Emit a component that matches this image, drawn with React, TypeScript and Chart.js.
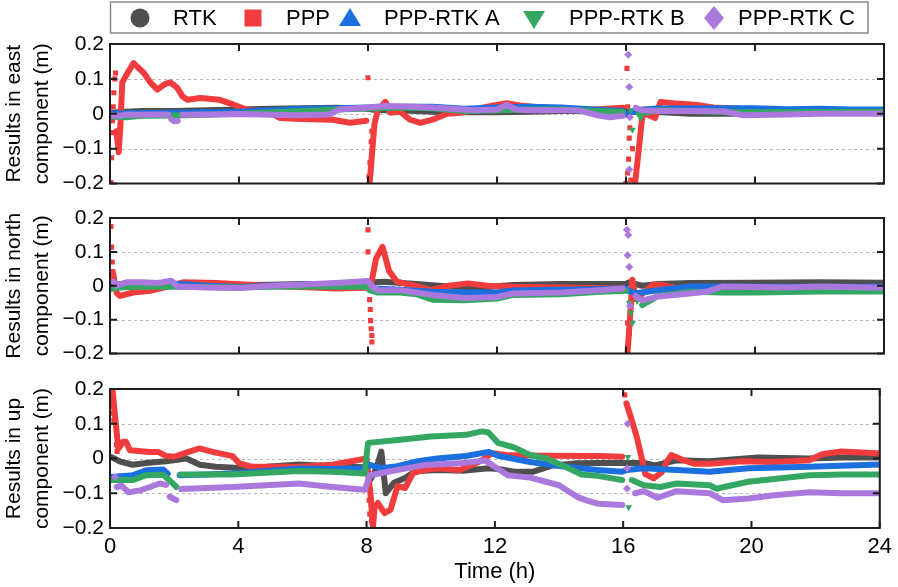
import React, { useEffect, useRef } from 'react';
import { Chart, registerables } from 'chart.js';

Chart.register(...registerables);

type Pt = [number, number | null];

// ---------- series meta ----------
const SERIES_NAMES = ['RTK', 'PPP', 'PPP-RTK A', 'PPP-RTK B', 'PPP-RTK C'];
const COLORS = ['#4f4f4f', '#f03c3c', '#1b6fdf', '#34a863', '#ab79dd'];
const POINT_STYLES = ['circle', 'rect', 'triangle', 'triangle', 'rectRot'];
const POINT_ROTATIONS = [0, 0, 0, 180, 0];

const X_TICKS = [0, 4, 8, 12, 16, 20, 24];
const Y_TICKS = [-0.2, -0.1, 0, 0.1, 0.2];
const Y_GRID = [-0.1, 0, 0.1];

// ---------- East component ----------
const EAST_RTK: Pt[] = [[0, 0.003], [0.5, 0.006], [1, 0.008], [2, 0.008], [3, 0.01], [4, 0.012], [5, 0.014], [6, 0.016], [7, 0.017], [7.9, 0.015], [8.3, 0.01], [9, 0.01], [10, 0.006], [11, 0.004], [12, 0.004], [13, 0.006], [14, 0.008], [15, 0.008], [16, 0.006], [17, 0.005], [18, 0.0], [19, 0.0], [20, 0.0], [21, 0.001], [22, 0.003], [24, 0.003]];
const EAST_PPP: Pt[] = [[0.2, -0.05], [0.27, -0.11], [0.33, -0.02], [0.38, 0.09], [0.5, 0.11], [0.73, 0.145], [0.9, 0.13], [1.05, 0.117], [1.25, 0.09], [1.47, 0.069], [1.7, 0.085], [1.87, 0.09], [2.08, 0.075], [2.25, 0.05], [2.4, 0.04], [2.8, 0.045], [3.4, 0.04], [3.84, 0.026], [4.25, 0.011], [4.87, 0.006], [5.28, -0.012], [5.9, -0.015], [6.9, -0.017], [7.45, -0.026], [7.95, -0.02], [8.0, null], [8.05, -0.2], [8.12, -0.12], [8.2, -0.03], [8.3, 0.01], [8.54, 0.034], [8.7, 0.003], [9.0, 0.006], [9.3, -0.017], [9.62, -0.026], [10.0, -0.017], [10.45, 0.0], [10.86, 0.003], [11.7, 0.02], [12.3, 0.03], [12.7, 0.024], [13.1, 0.02], [14, 0.012], [15, 0.012], [15.9, 0.017], [16.0, null], [16.28, -0.2], [16.4, -0.1], [16.5, -0.01], [16.6, 0.0], [16.9, -0.012], [17.07, 0.034], [17.47, 0.03], [18.2, 0.025], [18.7, 0.018], [19.55, 0.014], [20.8, 0.011], [21.8, 0.008], [24, 0.008]];
const EAST_PPP_OUT: Pt[] = [[0.03, -0.197], [0.05, -0.126], [0.07, -0.054], [0.08, -0.02], [0.1, 0.02], [0.12, 0.06], [0.15, 0.1], [0.17, 0.117], [8.0, 0.103], [8.03, -0.18], [8.06, -0.14], [8.1, -0.08], [8.12, -0.05], [16.03, 0.13], [16.05, 0.02], [16.0, -0.2], [16.05, -0.17], [16.08, -0.13], [16.1, -0.07], [16.12, -0.04], [16.15, -0.19], [16.2, -0.1]];
const EAST_A: Pt[] = [[0, 0.0], [1, 0.002], [2, 0.003], [3, 0.004], [4, 0.006], [5, 0.01], [6, 0.014], [7, 0.016], [8, 0.018], [9, 0.02], [10, 0.02], [11, 0.014], [12, 0.018], [13, 0.02], [14, 0.018], [15, 0.012], [15.9, 0.008], [16.0, -0.003], [16.2, 0.005], [16.5, 0.012], [17, 0.015], [18, 0.015], [19, 0.016], [20, 0.016], [21, 0.013], [22, 0.014], [23, 0.012], [24, 0.012]];
const EAST_B: Pt[] = [[0, -0.008], [0.5, -0.01], [1, -0.006], [2, -0.005], [3, -0.003], [4, 0.0], [5, 0.004], [6, 0.008], [7, 0.012], [8, 0.015], [9, 0.018], [10, 0.016], [11, 0.008], [12, 0.01], [13, 0.012], [14, 0.012], [15, 0.008], [15.9, 0.005], [16.0, null], [16.4, 0.0], [17, 0.01], [18, 0.008], [19, 0.005], [20, 0.004], [22, 0.005], [24, 0.006]];
const EAST_B_OUT: Pt[] = [[16.15, 0.01], [16.2, -0.046], [16.45, -0.012]];
const EAST_C: Pt[] = [[0, -0.004], [0.3, -0.006], [0.5, -0.002], [1, -0.003], [1.5, -0.002], [1.8, -0.002], [1.86, null], [1.9, -0.016], [2.0, -0.022], [2.1, -0.02], [2.15, null], [2.25, -0.003], [3, -0.002], [4, -0.001], [5, -0.003], [5.9, -0.004], [6.8, -0.002], [7.1, 0.012], [8, 0.018], [8.5, 0.022], [9.5, 0.02], [10.5, 0.015], [11.3, 0.01], [12, 0.012], [12.3, 0.025], [12.6, 0.012], [13, 0.01], [14.5, 0.01], [15.2, -0.006], [15.5, -0.01], [15.9, -0.006], [16.0, null], [16.3, 0.017], [16.5, 0.01], [17, 0.008], [18, 0.008], [19, 0.007], [19.6, -0.004], [21, -0.002], [22, 0.0], [24, 0.0]];
const EAST_C_OUT: Pt[] = [[16.07, 0.169], [16.1, 0.077], [16.12, -0.01], [16.1, -0.16]];

// ---------- North component ----------
const NORTH_RTK: Pt[] = [[0, 0.0], [1, 0.0], [2, 0.002], [3, 0.002], [4, 0.002], [5, 0.003], [6, 0.005], [7, 0.005], [8, 0.006], [8.2, 0.01], [8.5, 0.012], [9.5, 0.005], [10.5, -0.002], [11.5, -0.005], [12.5, 0.002], [14, 0.005], [15, 0.005], [16, 0.006], [16.1, 0.01], [16.5, 0.0], [17, 0.005], [18, 0.008], [20, 0.009], [22, 0.01], [24, 0.009]];
const NORTH_PPP: Pt[] = [[0.1, 0.036], [0.16, 0.0], [0.21, -0.022], [0.31, -0.03], [0.72, -0.02], [1.24, -0.015], [1.76, -0.003], [2.27, 0.01], [3.3, 0.008], [4.86, 0.0], [5.9, -0.004], [7, -0.008], [7.95, -0.006], [8.05, null], [8.1, 0.006], [8.25, 0.08], [8.45, 0.115], [8.65, 0.044], [8.9, 0.012], [9.45, 0.0], [9.95, -0.013], [10.5, 0.0], [11.1, 0.007], [11.7, 0.0], [12.5, -0.003], [14, -0.005], [15.9, -0.008], [16.0, null], [16.05, -0.195], [16.12, -0.1], [16.2, 0.018], [16.3, -0.04], [16.5, -0.024], [16.85, 0.004], [17.1, 0.003], [17.6, -0.008], [18.5, -0.005], [20, -0.005], [24, -0.005]];
const NORTH_PPP_OUT: Pt[] = [[0.03, 0.175], [0.05, 0.114], [0.07, 0.07], [0.09, 0.042], [8.0, 0.165], [8.0, 0.1], [8.04, -0.01], [8.05, -0.041], [8.07, -0.07], [8.08, -0.103], [8.1, -0.127], [8.12, -0.147], [8.12, -0.166], [16.05, -0.11], [16.1, -0.14]];
const NORTH_A: Pt[] = [[0, -0.005], [0.3, 0.005], [1, 0.008], [2, 0.006], [3, 0.0], [4, -0.004], [5, 0.0], [6, 0.004], [7, 0.005], [8, 0.006], [8.2, -0.008], [9, -0.012], [10, -0.018], [11, -0.02], [12, -0.02], [12.5, -0.014], [14, -0.012], [15, -0.01], [16, -0.008], [16.1, -0.016], [16.3, -0.022], [17, -0.013], [18, -0.002], [19, -0.002], [21, -0.003], [24, -0.003]];
const NORTH_B: Pt[] = [[0, -0.01], [0.3, -0.005], [1, -0.002], [2, -0.003], [3, -0.004], [4, -0.005], [5, -0.003], [6, -0.002], [7, -0.003], [8, -0.003], [8.05, -0.013], [8.3, -0.02], [9, -0.02], [9.5, -0.025], [10, -0.041], [11, -0.043], [12, -0.038], [12.5, -0.027], [14, -0.025], [15.2, -0.018], [16, -0.015], [16.05, null], [16.5, -0.057], [17, -0.03], [18, -0.018], [19, -0.02], [20, -0.02], [22, -0.017], [24, -0.017]];
const NORTH_B_OUT: Pt[] = [[16.1, -0.05], [16.15, -0.08], [16.2, -0.11], [16.35, -0.045]];
const NORTH_C: Pt[] = [[0.1, 0.012], [0.2, 0.0], [0.5, 0.01], [1, 0.01], [1.5, 0.008], [1.9, 0.015], [2.1, -0.002], [3, -0.005], [4, -0.007], [5, 0.0], [6, 0.004], [7, 0.008], [8, 0.014], [8.1, 0.0], [8.3, -0.013], [9, -0.013], [9.5, -0.02], [10, -0.027], [11, -0.036], [12, -0.033], [12.5, -0.023], [14, -0.02], [15.2, -0.013], [15.9, -0.008], [16.05, null], [16.3, -0.03], [16.5, -0.043], [17, -0.032], [17.5, -0.027], [18.5, -0.018], [19, -0.002], [21, -0.005], [22, -0.002], [24, -0.006]];
const NORTH_C_OUT: Pt[] = [[16.03, 0.165], [16.07, 0.15], [16.05, 0.09], [16.1, 0.055], [16.12, -0.06]];

// ---------- Up component ----------
const UP_RTK: Pt[] = [[0.05, 0.004], [0.3, -0.008], [0.7, -0.018], [1.2, -0.012], [1.75, -0.008], [2.38, 0.0], [2.8, -0.018], [3.3, -0.024], [4.0, -0.027], [4.9, -0.024], [5.9, -0.017], [6.9, -0.022], [7.95, -0.025], [8.12, -0.06], [8.3, -0.03], [8.46, 0.02], [8.6, -0.1], [8.85, -0.07], [9.2, -0.056], [9.5, -0.037], [10.2, -0.033], [11, -0.035], [11.8, -0.028], [12.1, -0.03], [12.6, -0.038], [13.2, -0.038], [13.8, -0.02], [14.5, -0.014], [15.2, -0.013], [15.97, -0.013], [16.64, -0.013], [17.0, -0.02], [17.67, -0.005], [18.7, -0.008], [20.2, 0.003], [21.8, 0.0], [22.84, 0.003], [24, 0.003]];
const UP_PPP: Pt[] = [[0.08, 0.197], [0.18, 0.1], [0.26, 0.028], [0.41, 0.048], [0.5, 0.048], [0.62, 0.024], [1.24, 0.019], [1.5, 0.019], [1.76, 0.007], [2.0, 0.005], [2.38, 0.017], [2.79, 0.029], [3.2, 0.019], [3.82, 0.007], [4.03, -0.014], [4.44, -0.024], [5.2, -0.024], [5.9, -0.024], [6.93, -0.018], [7.7, -0.005], [8.0, 0.0], [8.12, -0.1], [8.2, -0.197], [8.25, -0.14], [8.35, -0.128], [8.56, -0.157], [8.75, -0.147], [8.96, -0.08], [9.2, -0.085], [9.45, -0.042], [9.8, -0.033], [10.2, -0.028], [10.9, -0.033], [11.3, -0.018], [11.6, -0.005], [11.9, 0.015], [12.35, 0.01], [13.5, 0.008], [15.2, 0.007], [15.97, 0.005], [16.02, null], [16.1, 0.159], [16.27, 0.11], [16.43, 0.06], [16.58, 0.0], [16.69, -0.045], [16.95, -0.057], [17.2, -0.04], [17.36, -0.01], [17.5, 0.01], [17.88, -0.005], [18.2, -0.015], [18.7, -0.015], [19.7, -0.008], [20.7, -0.01], [21.8, -0.005], [22.2, 0.012], [22.8, 0.02], [23.9, 0.015], [24, 0.015]];
const UP_PPP_OUT: Pt[] = [[0.05, 0.17], [0.08, 0.15], [0.1, 0.13], [0.12, 0.11], [0.2, 0.04], [0.22, 0.02], [8.05, -0.05], [8.08, -0.12], [8.1, -0.16], [8.15, -0.18], [16.05, 0.183]];
const UP_A: Pt[] = [[0.05, -0.053], [0.72, -0.048], [1.13, -0.034], [1.66, -0.032], [1.8, -0.044], [1.85, null], [2.17, -0.048], [3.0, -0.046], [3.82, -0.043], [4.9, -0.036], [5.9, -0.029], [6.9, -0.03], [7.95, -0.028], [8.1, -0.018], [8.46, -0.028], [8.96, -0.022], [9.6, -0.008], [10.2, 0.0], [11.1, 0.007], [11.8, 0.019], [12.1, 0.008], [13.1, -0.01], [14.2, -0.024], [15.2, -0.033], [15.97, -0.038], [16.1, -0.033], [16.64, -0.028], [17.67, -0.033], [18.7, -0.038], [19.9, -0.028], [21.8, -0.024], [24, -0.017]];
const UP_B: Pt[] = [[0.05, -0.062], [0.72, -0.062], [1.13, -0.048], [1.66, -0.047], [1.96, -0.072], [2.07, -0.082], [2.12, null], [2.2, -0.046], [3.8, -0.046], [5.9, -0.036], [6.93, -0.038], [7.95, -0.043], [8.0, 0.01], [8.05, 0.045], [8.96, 0.053], [10.0, 0.063], [11.1, 0.068], [11.6, 0.078], [11.8, 0.075], [12.1, 0.045], [12.6, 0.032], [13.1, 0.01], [13.6, 0.0], [14.2, -0.024], [14.7, -0.046], [15.2, -0.05], [15.97, -0.062], [16.05, null], [16.27, -0.062], [16.64, -0.077], [17.15, -0.082], [17.67, -0.072], [18.7, -0.077], [18.9, -0.087], [19.9, -0.067], [21.8, -0.048], [22.84, -0.046], [24, -0.046]];
const UP_B_OUT: Pt[] = [[16.15, 0.004], [16.17, -0.14]];
const UP_C: Pt[] = [[0.21, -0.082], [0.36, -0.078], [0.57, -0.097], [0.93, -0.092], [1.24, -0.082], [1.55, -0.072], [1.75, -0.076], [1.8, null], [1.86, -0.11], [2.07, -0.12], [2.12, null], [2.22, -0.088], [3.82, -0.082], [5.9, -0.072], [6.93, -0.082], [7.95, -0.09], [8.1, -0.048], [8.96, -0.033], [9.8, -0.019], [10.9, -0.014], [11.7, -0.006], [12.0, -0.024], [12.4, -0.048], [13.1, -0.055], [14.0, -0.077], [14.6, -0.112], [14.9, -0.122], [15.2, -0.13], [15.97, -0.134], [16.05, null], [16.37, -0.1], [16.64, -0.094], [17.07, -0.113], [17.67, -0.094], [18.7, -0.1], [19.1, -0.12], [19.9, -0.115], [20.7, -0.106], [21.8, -0.097], [22.84, -0.1], [24, -0.1]];
const UP_C_OUT: Pt[] = [[0.16, -0.053], [16.14, 0.1], [16.12, -0.028], [16.12, -0.086]];

const FONT = '"Liberation Sans", Arial, Helvetica, sans-serif';

const PANELS = [
  { title: ['Results in east', 'component (m)'], lines: [EAST_RTK, EAST_PPP, EAST_A, EAST_B, EAST_C], outliers: [[], EAST_PPP_OUT, [], EAST_B_OUT, EAST_C_OUT], top: 0, height: 200, padTop: 44, padBottom: 16, xAxis: false, legend: true },
  { title: ['Results in north', 'component (m)'], lines: [NORTH_RTK, NORTH_PPP, NORTH_A, NORTH_B, NORTH_C], outliers: [[], NORTH_PPP_OUT, [], NORTH_B_OUT, NORTH_C_OUT], top: 200, height: 170, padTop: 18, padBottom: 13, xAxis: false, legend: false },
  { title: ['Results in up', 'component (m)'], lines: [UP_RTK, UP_PPP, UP_A, UP_B, UP_C], outliers: [[], UP_PPP_OUT, [], UP_B_OUT, UP_C_OUT], top: 370, height: 217, padTop: 19, padBottom: 0, xAxis: true, legend: false },
];

const LEGEND_SYMBOL_X = [140, 253, 350, 534, 714];
const LEGEND_TEXT_X = [173, 286, 384, 569, 738];

const toXY = (pts: Pt[]) => pts.map(([x, y]) => ({ x, y }));

const fmt = (v: number) => {
  const r = Math.round(v * 10) / 10;
  if (r === 0) return '0';
  return (r < 0 ? '\u2212' : '') + Math.abs(r).toFixed(1);
};

const framePlugin = {
  id: 'frame',
  beforeDatasetsDraw(chart: any) {
    const { ctx, chartArea: a, scales } = chart;
    const y = scales.y;
    ctx.save();
    ctx.strokeStyle = '#b8b8b8';
    ctx.lineWidth = 1;
    ctx.setLineDash([3, 3]);
    for (const v of Y_GRID) {
      const py = Math.round(y.getPixelForValue(v)) + 0.5;
      ctx.beginPath();
      ctx.moveTo(a.left, py);
      ctx.lineTo(a.right, py);
      ctx.stroke();
    }
    ctx.restore();
  },
  afterDatasetsDraw(chart: any) {
    const { ctx, chartArea: a, scales } = chart;
    const x = scales.x;
    const y = scales.y;
    ctx.save();
    ctx.strokeStyle = '#1e1e1e';
    ctx.lineWidth = 2;
    ctx.strokeRect(a.left, a.top, a.right - a.left, a.bottom - a.top);
    ctx.beginPath();
    for (const v of X_TICKS) {
      const px = x.getPixelForValue(v);
      ctx.moveTo(px, a.top);
      ctx.lineTo(px, a.top + 7);
      ctx.moveTo(px, a.bottom);
      ctx.lineTo(px, a.bottom - 7);
    }
    for (const v of Y_TICKS) {
      const py = y.getPixelForValue(v);
      ctx.moveTo(a.left, py);
      ctx.lineTo(a.left + 7, py);
      ctx.moveTo(a.right, py);
      ctx.lineTo(a.right - 7, py);
    }
    ctx.stroke();
    ctx.restore();
  },
};

function drawSymbol(ctx: CanvasRenderingContext2D, kind: number, cx: number, cy: number, color: string) {
  ctx.fillStyle = color;
  ctx.beginPath();
  if (kind === 0) {
    ctx.arc(cx, cy, 9.5, 0, Math.PI * 2);
  } else if (kind === 1) {
    ctx.rect(cx - 8.5, cy - 8.5, 17, 17);
  } else if (kind === 2) {
    ctx.moveTo(cx, cy - 10);
    ctx.lineTo(cx + 11, cy + 8);
    ctx.lineTo(cx - 11, cy + 8);
    ctx.closePath();
  } else if (kind === 3) {
    ctx.moveTo(cx, cy + 11);
    ctx.lineTo(cx + 11, cy - 7);
    ctx.lineTo(cx - 11, cy - 7);
    ctx.closePath();
  } else {
    ctx.moveTo(cx, cy - 12);
    ctx.lineTo(cx + 10, cy);
    ctx.lineTo(cx, cy + 12);
    ctx.lineTo(cx - 10, cy);
    ctx.closePath();
  }
  ctx.fill();
}

const legendPlugin = {
  id: 'boxLegend',
  afterDraw(chart: any) {
    const ctx: CanvasRenderingContext2D = chart.ctx;
    ctx.save();
    ctx.strokeStyle = '#8a8a8a';
    ctx.lineWidth = 1.5;
    ctx.strokeRect(110.5, 2, 757.5, 31);
    ctx.font = `22px ${FONT}`;
    ctx.textBaseline = 'middle';
    ctx.textAlign = 'left';
    for (let i = 0; i < SERIES_NAMES.length; i++) {
      drawSymbol(ctx, i, LEGEND_SYMBOL_X[i], 18, COLORS[i]);
      ctx.fillStyle = '#000';
      ctx.fillText(SERIES_NAMES[i], LEGEND_TEXT_X[i], 19);
    }
    ctx.restore();
  },
};

function Panel({ cfg }: { cfg: any }) {
  const ref = useRef<HTMLCanvasElement>(null);
  useEffect(() => {
    const datasets: any[] = [];
    for (let i = 0; i < 5; i++) {
      datasets.push({
        type: 'line',
        label: SERIES_NAMES[i],
        data: toXY(cfg.lines[i]),
        borderColor: COLORS[i],
        backgroundColor: COLORS[i],
        borderWidth: 6,
        pointRadius: 0,
        tension: 0,
        spanGaps: false,
        borderJoinStyle: 'round',
        borderCapStyle: 'round',
        order: (4 - i) * 2 + 1,
      });
      if (cfg.outliers[i].length) {
        datasets.push({
          type: 'line',
          label: SERIES_NAMES[i] + ' outliers',
          data: toXY(cfg.outliers[i]),
          showLine: false,
          pointStyle: POINT_STYLES[i],
          pointRotation: POINT_ROTATIONS[i],
          pointRadius: i === 1 ? 3.6 : 4,
          backgroundColor: COLORS[i],
          borderColor: COLORS[i],
          pointBorderWidth: 0,
          order: (4 - i) * 2,
        });
      }
    }
    const xScale: any = {
      type: 'linear',
      min: 0,
      max: 24,
      display: cfg.xAxis,
      ticks: { stepSize: 4, font: { family: FONT, size: 22 }, color: '#000', padding: 6, maxRotation: 0, autoSkip: false },
      grid: { display: false, drawTicks: false },
      border: { display: false },
      title: { display: true, text: 'Time (h)', font: { family: FONT, size: 22 }, color: '#000', padding: { top: 0, bottom: 2 } },
    };
    if (cfg.xAxis) xScale.afterFit = (s: any) => { s.height = 59; };
    const chart = new Chart(ref.current as HTMLCanvasElement, {
      type: 'line',
      data: { datasets },
      options: {
        responsive: false,
        animation: false,
        events: [],
        layout: { padding: { top: cfg.padTop, bottom: cfg.padBottom, left: 0, right: 14 } },
        plugins: { legend: { display: false }, tooltip: { enabled: false }, title: { display: false } },
        scales: {
          x: xScale,
          y: {
            type: 'linear',
            min: -0.2,
            max: 0.2,
            ticks: { stepSize: 0.1, font: { family: FONT, size: 21, lineHeight: 1 }, color: '#000', padding: 6, callback: (v: any) => fmt(Number(v)) },
            grid: { display: false, drawTicks: false },
            border: { display: false },
            title: { display: true, text: cfg.title, font: { family: FONT, size: 21, lineHeight: 1.333 }, color: '#000', padding: { top: 0, bottom: 0 } },
            afterFit: (s: any) => { s.width = 110; },
          },
        },
      } as any,
      plugins: cfg.legend ? [framePlugin, legendPlugin] : [framePlugin],
    });
    return () => chart.destroy();
  }, []);
  return (
    <canvas
      ref={ref}
      width={898}
      height={cfg.height}
      style={{ position: 'absolute', left: 0, top: cfg.top, width: 898, height: cfg.height }}
    />
  );
}

export default function App() {
  return (
    <div style={{ position: 'absolute', left: 0, top: 0, width: 898, height: 587, background: '#fff', overflow: 'hidden' }}>
      {PANELS.map((p, i) => (
        <Panel key={i} cfg={p} />
      ))}
    </div>
  );
}
